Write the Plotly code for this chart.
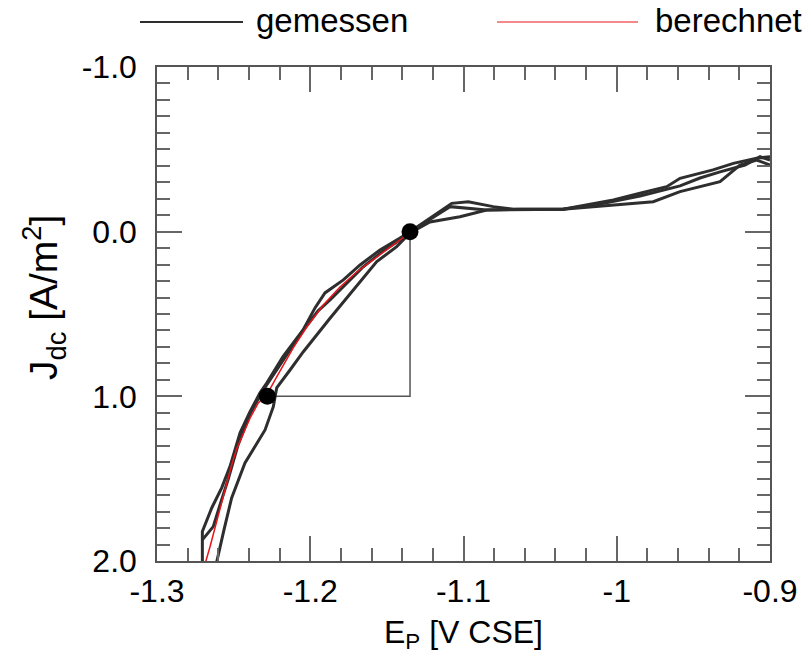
import plotly.graph_objects as go

# ---------------- data ----------------
# measured curves (three overlapping sweeps)
E_meas_1 = [-1.2610, -1.2610, -1.2563, -1.2513, -1.2426, -1.2354, -1.2295, -1.2241, -1.2219,
            -1.2132, -1.2045, -1.1871, -1.1719, -1.1566, -1.1436, -1.1349, -1.1219, -1.1023,
            -1.0849, -1.0631, -1.0351, -1.0022, -0.9762, -0.9587, -0.9326, -0.9196, -0.9087, -0.9000]
J_meas_1 = [2.084, 2.004, 1.811, 1.617, 1.404, 1.295, 1.204, 1.063, 0.949,
            0.840, 0.729, 0.526, 0.354, 0.182, 0.091, 0.008, -0.059, -0.091,
            -0.132, -0.136, -0.136, -0.162, -0.182, -0.243, -0.304, -0.405, -0.435, -0.405]

E_meas_2 = [-1.2704, -1.2704, -1.2643, -1.2578, -1.2524, -1.2458, -1.2393, -1.2328, -1.2284,
            -1.2178, -1.2047, -1.1969, -1.1904, -1.1784, -1.1675, -1.1545, -1.1414, -1.1349,
            -1.1077, -1.0969, -1.0806, -1.0675, -1.0351, -1.0022, -0.9848, -0.9674, -0.9587,
            -0.9372, -0.9239, -0.9087, -0.9000]
J_meas_2 = [2.004, 1.821, 1.678, 1.556, 1.427, 1.222, 1.093, 0.979, 0.919,
            0.759, 0.597, 0.463, 0.372, 0.293, 0.202, 0.111, 0.038, 0.000,
            -0.172, -0.182, -0.152, -0.136, -0.136, -0.192, -0.233, -0.273, -0.324,
            -0.375, -0.415, -0.446, -0.455]

E_meas_3 = [-1.2704, -1.2633, -1.2589, -1.2537, -1.2471, -1.2393, -1.2315, -1.2230, -1.2132,
            -1.2034, -1.1949, -1.1871, -1.1773, -1.1662, -1.1532, -1.1414, -1.1349, -1.1088,
            -1.0849, -1.0631, -1.0351, -1.0109, -0.9848, -0.9587, -0.9457, -0.9326, -0.9163,
            -0.9065, -0.9000]
J_meas_3 = [1.872, 1.791, 1.659, 1.508, 1.295, 1.107, 0.973, 0.852, 0.718,
            0.585, 0.481, 0.415, 0.324, 0.220, 0.123, 0.050, 0.002, -0.152,
            -0.132, -0.132, -0.136, -0.168, -0.217, -0.278, -0.326, -0.363, -0.405,
            -0.455, -0.435]

# calculated curve
E_calc = [-1.2690, -1.2682, -1.2654, -1.2610, -1.2578, -1.2545, -1.2513, -1.2480, -1.2437,
          -1.2393, -1.2339, -1.2280, -1.2219, -1.2111, -1.2023, -1.1915, -1.1806, -1.1697,
          -1.1566, -1.1458, -1.1393, -1.1349]
J_calc = [2.084, 2.004, 1.913, 1.757, 1.635, 1.520, 1.417, 1.319, 1.224,
          1.133, 1.040, 0.985, 0.882, 0.706, 0.579, 0.445, 0.336, 0.245,
          0.154, 0.081, 0.032, 0.005]

# marked points
E_points = [-1.1349, -1.2280]
J_points = [0.0, 1.0]

# ticks
x_tick_vals = [-1.3, -1.2, -1.1, -1.0, -0.9]
x_tick_text = ["-1.3", "-1.2", "-1.1", "-1", "-0.9"]
y_tick_vals = [-1.0, 0.0, 1.0, 2.0]
y_tick_text = ["-1.0", "0.0", "1.0", "2.0"]

legend_names = ["gemessen", "berechnet"]
x_title = "E<sub>P</sub> [V CSE]"
y_title = "J<sub>dc</sub> [A/m<sup>2</sup>]"
meas_color = "#2e2e2e"
calc_color = "#e8141c"

# ---------------- figure ----------------
fig = go.Figure()

# construction lines between the two marked points
fig.add_trace(go.Scatter(
    x=[E_points[1], E_points[0], E_points[0]],
    y=[J_points[1], J_points[1], J_points[0]],
    mode="lines", line=dict(color="#555555", width=1.5),
    showlegend=False, hoverinfo="skip"))

for ex, jy in [(E_meas_1, J_meas_1), (E_meas_2, J_meas_2), (E_meas_3, J_meas_3)]:
    fig.add_trace(go.Scatter(x=ex, y=jy, mode="lines",
                             line=dict(color=meas_color, width=3),
                             name=legend_names[0], showlegend=False))

fig.add_trace(go.Scatter(x=E_calc, y=J_calc, mode="lines",
                         line=dict(color=calc_color, width=1.5),
                         name=legend_names[1], showlegend=False))

fig.add_trace(go.Scatter(x=E_points, y=J_points, mode="markers",
                         marker=dict(size=17, color="black"),
                         showlegend=False))

FONT = "Liberation Sans, Arial, sans-serif"
L, R, T, B = 157, 41, 67, 100
W, H = 811, 661
pw, ph = W - L - R, H - T - B

def px(x):
    return (x - L) / pw

def py(y):
    return (H - B - y) / ph

# manual legend
fig.add_shape(type="line", xref="paper", yref="paper",
              x0=px(140), x1=px(243), y0=py(22), y1=py(22),
              line=dict(color=meas_color, width=2.2))
fig.add_shape(type="line", xref="paper", yref="paper",
              x0=px(497), x1=px(638), y0=py(22), y1=py(22),
              line=dict(color=calc_color, width=1.2))
fig.add_annotation(xref="paper", yref="paper", x=px(254), y=py(21),
                   xanchor="left", yanchor="middle", showarrow=False,
                   text=legend_names[0], font=dict(size=33, family=FONT, color="black"))
fig.add_annotation(xref="paper", yref="paper", x=px(653), y=py(21),
                   xanchor="left", yanchor="middle", showarrow=False,
                   text=legend_names[1], font=dict(size=33, family=FONT, color="black"))

# y-axis title (placed as rotated text)
fig.add_annotation(xref="paper", yref="paper", x=px(44), y=py(298),
                   xanchor="center", yanchor="middle", showarrow=False, textangle=-90,
                   text=y_title, font=dict(size=39, family=FONT, color="black"))

fig.update_layout(
    width=W, height=H,
    margin=dict(l=L, r=R, t=T, b=B),
    plot_bgcolor="white", paper_bgcolor="white",
    font=dict(family=FONT, color="black"),
    showlegend=False,
)

fig.update_xaxes(
    range=[-1.3, -0.9], tickmode="array", tickvals=x_tick_vals, ticktext=x_tick_text,
    ticks="inside", ticklen=25, tickwidth=1.5, tickcolor="#666666",
    minor=dict(tick0=-1.3, dtick=0.02, ticks="inside", ticklen=13,
               tickwidth=1.5, tickcolor="#666666", showgrid=False),
    showline=True, linecolor="#555555", linewidth=1.5, mirror="ticks",
    showgrid=False, zeroline=False, automargin=False,
    tickfont=dict(size=32, family=FONT, color="black"), ticklabelstandoff=1,
    title=dict(text=x_title, font=dict(size=32, family=FONT, color="black"),
               standoff=12),
)
fig.update_yaxes(
    range=[2.0, -1.0], tickmode="array", tickvals=y_tick_vals, ticktext=y_tick_text,
    ticks="inside", ticklen=25, tickwidth=1.5, tickcolor="#666666",
    minor=dict(tick0=-1.0, dtick=0.1, ticks="inside", ticklen=13,
               tickwidth=1.5, tickcolor="#666666", showgrid=False),
    showline=True, linecolor="#555555", linewidth=1.5, mirror="ticks",
    showgrid=False, zeroline=False, automargin=False,
    tickfont=dict(size=32, family=FONT, color="black"), ticklabelstandoff=12,
)

fig.write_html("out.html")
